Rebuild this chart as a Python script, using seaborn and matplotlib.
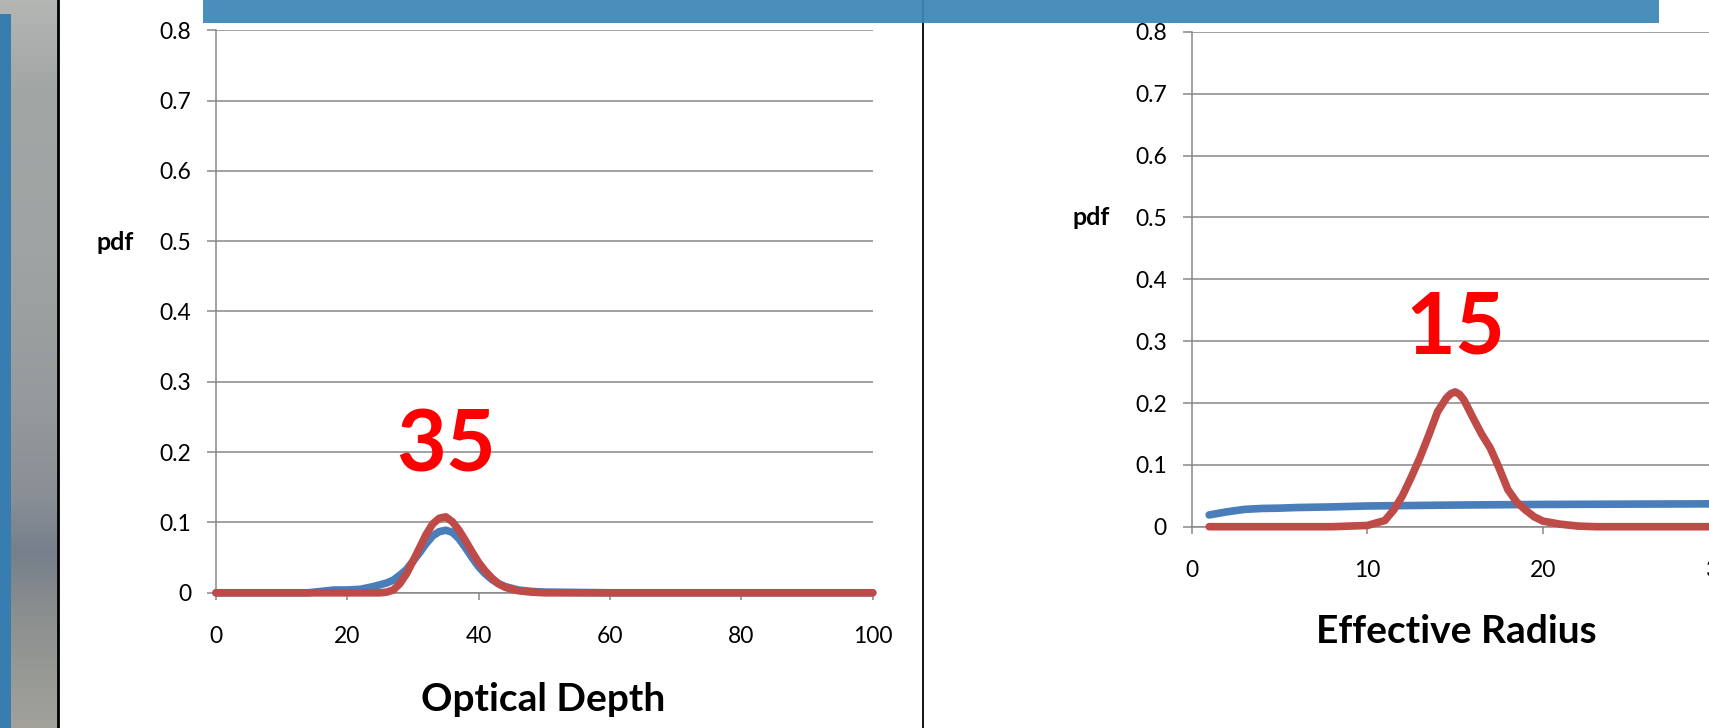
import numpy as np
import pandas as pd
import matplotlib
matplotlib.use("Agg")
import matplotlib.pyplot as plt
from matplotlib.patches import Rectangle
from matplotlib.lines import Line2D
import seaborn as sns

# ---- data -------------------------------------------------------------
# Optical depth pdfs
OD_BLUE_X = [0, 5, 10, 14, 16, 18, 20, 22, 24, 26, 27, 28, 29, 30, 31, 32, 33, 34, 35,
             36, 37, 38, 39, 40, 41, 42, 43, 44, 46, 48, 50, 60, 70, 80, 90, 100]
OD_BLUE_Y = [0, 0, 0, 0, 0.002, 0.004, 0.004, 0.005, 0.009, 0.014, 0.018, 0.025, 0.033,
             0.045, 0.057, 0.070, 0.081, 0.087, 0.089, 0.086, 0.077, 0.064, 0.050, 0.037,
             0.027, 0.019, 0.013, 0.009, 0.004, 0.002, 0.001, 0, 0, 0, 0, 0]
OD_RED_X = [0, 10, 20, 25, 26, 27, 28, 29, 30, 31, 32, 33, 34, 35, 36, 37, 38, 39, 40,
            41, 42, 43, 44, 45, 46, 48, 50, 60, 80, 100]
OD_RED_Y = [0, 0, 0, 0, 0.001, 0.004, 0.013, 0.027, 0.045, 0.064, 0.083, 0.098, 0.106,
            0.108, 0.101, 0.089, 0.074, 0.058, 0.043, 0.031, 0.021, 0.013, 0.008, 0.005,
            0.003, 0.001, 0, 0, 0, 0]
OD_PEAK = 35

# Effective radius pdfs
ER_BLUE_X = [1, 2, 3, 4, 5, 6, 8, 10, 15, 20, 25, 30, 40]
ER_BLUE_Y = [0.019, 0.024, 0.028, 0.0295, 0.030, 0.031, 0.032, 0.0335, 0.035, 0.036,
             0.0365, 0.037, 0.0375]
ER_RED_X = [1, 2, 4, 6, 8, 10, 11, 11.5, 12, 12.5, 13, 13.5, 14, 14.5, 14.75, 15, 15.25,
            15.5, 16, 16.5, 17, 17.5, 18, 18.5, 19, 19.5, 20, 21, 22, 23, 25, 30, 40]
ER_RED_Y = [0, 0, 0, 0, 0, 0.002, 0.010, 0.027, 0.050, 0.080, 0.112, 0.148, 0.186,
            0.208, 0.215, 0.218, 0.214, 0.205, 0.177, 0.150, 0.127, 0.095, 0.060, 0.040,
            0.027, 0.016, 0.009, 0.004, 0.001, 0, 0, 0, 0]
ER_PEAK = 15

Y_TICKS = [0, 0.1, 0.2, 0.3, 0.4, 0.5, 0.6, 0.7, 0.8]
Y_TICK_LABELS = ["0", "0.1", "0.2", "0.3", "0.4", "0.5", "0.6", "0.7", "0.8"]
OD_TICKS = [0, 20, 40, 60, 80, 100]
ER_TICKS = [0, 10, 20, 30, 40]


def frame(bx, by, rx, ry):
    return pd.concat([
        pd.DataFrame({"x": bx, "pdf": by, "series": "blue"}),
        pd.DataFrame({"x": rx, "pdf": ry, "series": "red"}),
    ], ignore_index=True)


od_df = frame(OD_BLUE_X, OD_BLUE_Y, OD_RED_X, OD_RED_Y)
er_df = frame(ER_BLUE_X, ER_BLUE_Y, ER_RED_X, ER_RED_Y)

# ---- style ------------------------------------------------------------
sns.set_style("white")
plt.rcParams["font.family"] = ["Lato", "DejaVu Sans"]
plt.rcParams["text.color"] = "black"
plt.rcParams["axes.labelcolor"] = "black"

W, H = 1709, 728
fig = plt.figure(figsize=(W / 100, H / 100), dpi=100)
fig.patch.set_facecolor("white")

BLUE = "#4A7EBB"
RED = "#BE4B48"
GRID = "#878787"
PALETTE = {"blue": BLUE, "red": RED}
LW = 5.5


def px_axes(x0, y0_px, w_px, h_px):
    """Axes placed with pixel coordinates measured from the top-left corner."""
    return fig.add_axes([x0 / W, (H - y0_px) / H, w_px / W, h_px / H])


def style_axes(ax, xticks, xmax):
    ax.set_xlim(0, xmax)
    ax.set_ylim(0, 0.8)
    ax.set_xticks(xticks)
    ax.set_xticklabels([str(t) for t in xticks])
    ax.set_yticks(Y_TICKS)
    ax.set_yticklabels(Y_TICK_LABELS)
    ax.set_facecolor("none")
    ax.yaxis.grid(True, color=GRID, lw=1.1)
    ax.xaxis.grid(False)
    for s in ("top", "right"):
        ax.spines[s].set_visible(False)
    for s in ("left", "bottom"):
        ax.spines[s].set_color(GRID)
        ax.spines[s].set_linewidth(1.1)
    ax.tick_params(axis="y", direction="out", length=6.3, width=1.1, color=GRID,
                   pad=11.5, labelsize=16.5, labelcolor="black", left=True)
    ax.tick_params(axis="x", direction="out", length=5, width=1.1, color=GRID,
                   pad=19, labelsize=16.5, labelcolor="black", bottom=True)


def add_labels(ax, xlabel, xl_pos, yl_pos):
    ax.set_xlabel(xlabel, fontsize=28, fontweight="bold", color="black")
    ax.xaxis.set_label_coords(*xl_pos)
    ax.xaxis.label.set_va("baseline")
    ax.set_ylabel("pdf", fontsize=18, fontweight="bold", rotation=0, color="black")
    ax.yaxis.set_label_coords(*yl_pos)
    ax.yaxis.label.set_va("center")
    ax.yaxis.label.set_ha("center")


# ---- left panel: optical depth ---------------------------------------
ax1 = px_axes(216, 592.8, 656.7, 562.6)
sns.lineplot(data=od_df, x="x", y="pdf", hue="series", palette=PALETTE, ax=ax1,
             legend=False, lw=LW, solid_capstyle="round", solid_joinstyle="round",
             clip_on=False, zorder=3)
style_axes(ax1, OD_TICKS, 100)
add_labels(ax1, "Optical Depth", (0.498, -0.210), (-0.1538, 0.6235))
ax1.text(OD_PEAK, 0.172, str(OD_PEAK), color="#FF0000", fontsize=62,
         fontweight="bold", ha="center", va="baseline")

# ---- right panel: effective radius -----------------------------------
ax2 = px_axes(1191.6, 526.7, 702.8, 494.8)
sns.lineplot(data=er_df, x="x", y="pdf", hue="series", palette=PALETTE, ax=ax2,
             legend=False, lw=LW, solid_capstyle="round", solid_joinstyle="round",
             clip_on=False, zorder=3)
style_axes(ax2, ER_TICKS, 40)
add_labels(ax2, "Effective Radius", (0.3762, -0.235), (-0.1431, 0.6249))
ax2.text(ER_PEAK, 0.280, str(ER_PEAK), color="#FF0000", fontsize=62,
         fontweight="bold", ha="center", va="baseline")

# ---- slide decoration: blurred side strip, blue bar, dividers, banner --
strip = fig.add_axes([0, 0, 58 / W, 1])
strip.set_axis_off()
stops_y = [0.0, 0.12, 0.35, 0.55, 0.68, 0.76, 0.84, 1.0]
stops_c = np.array([[180, 182, 180], [162, 166, 165], [160, 163, 163], [150, 154, 156],
                    [138, 143, 150], [118, 127, 140], [138, 142, 142], [162, 162, 155]]) / 255
yy = np.linspace(0, 1, 200)
grad = np.stack([np.interp(yy, stops_y, stops_c[:, k]) for k in range(3)], axis=-1)
grad = np.repeat(grad[:, None, :], 8, axis=1)
strip.imshow(grad, aspect="auto", extent=(0, 1, 1, 0), interpolation="bilinear")
strip.set_xlim(0, 1)
strip.set_ylim(1, 0)

fig.patches.append(Rectangle((0, 0), 11 / W, (H - 14) / H, transform=fig.transFigure,
                             facecolor="#377DB0", edgecolor="none", zorder=5))
fig.lines.append(Line2D([58 / W, 58 / W], [0, 1], transform=fig.transFigure,
                        color="black", lw=2.0, zorder=6))
fig.lines.append(Line2D([923 / W, 923 / W], [0, 1], transform=fig.transFigure,
                        color="black", lw=1.3, zorder=6))
fig.patches.append(Rectangle((203 / W, (H - 23) / H), (1659 - 203) / W, 23 / H,
                             transform=fig.transFigure, facecolor=(60 / 255, 135 / 255, 183 / 255),
                             alpha=0.93, edgecolor="none", zorder=7))

fig.savefig("out.png", dpi=100)
